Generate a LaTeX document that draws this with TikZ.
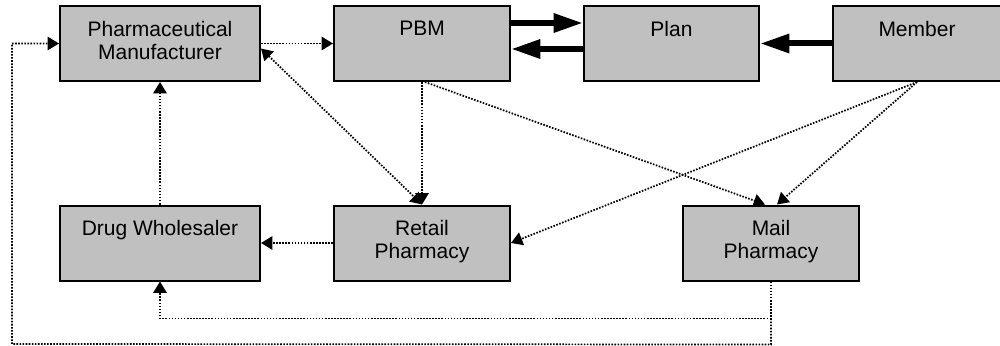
\documentclass[tikz,border=0pt]{standalone}
\usepackage{fontspec}
\setmainfont{Liberation Sans}
\usetikzlibrary{arrows.meta,calc}
\definecolor{boxgray}{HTML}{C0C0C0}
\begin{document}
\begin{tikzpicture}[x=0.75pt,y=-0.75pt,
  entity/.style={draw=black,line width=1.5pt,fill=boxgray,minimum height=56.25pt,inner sep=0pt},
  label text/.style={anchor=north,inner sep=0pt,align=center,font=\fontsize{15.75pt}{17.25pt}\selectfont},
  dotline/.style={line width=1.3pt,dash pattern=on 1.2pt off 1.1pt,-{Triangle[length=8.5pt,width=10pt]}},
  dotboth/.style={dotline,{Triangle[length=8.5pt,width=10pt]}-{Triangle[length=8.5pt,width=10pt]}},
  thick arrow/.style={line width=4.5pt,-{Triangle[length=22pt,width=13.5pt]}}
]
\useasboundingbox (0,0) rectangle (1000,346);
% boxes
\node[entity,minimum width=150pt] (pm) at (160,43.5) {};
\node[entity,minimum width=132pt] (pbm) at (422,43.5) {};
\node[entity,minimum width=131.25pt] (plan) at (671.5,43.5) {};
\node[entity,minimum width=126pt] (member) at (917,43.5) {};
\node[entity,minimum width=150pt] (dw) at (160,243) {};
\node[entity,minimum width=132pt] (retail) at (422,243) {};
\node[entity,minimum width=132pt] (mail) at (771,243) {};
% labels
\node[label text] (pm-t) at ($(pm.north)+(0,16)$) {Pharmaceutical\\Manufacturer};
\node[label text] (pbm-t) at ($(pbm.north)+(0,16)$) {PBM};
\node[label text] (plan-t) at ($(plan.north)+(0,16)$) {Plan};
\node[label text] (member-t) at ($(member.north)+(0,16)$) {Member};
\node[label text] (dw-t) at ($(dw.north)+(0,16)$) {Drug Wholesaler};
\node[label text] (retail-t) at ($(retail.north)+(0,16)$) {Retail\\Pharmacy};
\node[label text] (mail-t) at ($(mail.north)+(0,16)$) {Mail\\Pharmacy};
% thick arrows
\draw[thick arrow] ($(pbm.east)+(0,-20.5)$) -- ($(plan.west)+(0,-20.5)$);
\draw[thick arrow] ($(plan.west)+(0,5.5)$) -- ($(pbm.east)+(0,5.5)$);
\draw[thick arrow] (member) -- (plan);
% dotted connectors
\draw[dotline] (pm) -- (pbm);
\draw[dotboth] ($(pm.east)+(0,5)$) -- (retail.north);
\draw[dotline] (pbm.south) -- (retail.north);
\draw[dotline] ($(pbm.south)+(3,0)$) -- ($(mail.north)+(-6,0)$);
\draw[dotline] (member.south) -- ($(mail.north)+(6,0)$);
\draw[dotline] (member.south) -- (retail.east);
\draw[dotline] (retail) -- (dw);
\draw[dotline] (dw) -- (pm);
\coordinate (c1) at ($(mail.south)+(0,37)$);
\coordinate (c2) at ($(mail.south)+(0,63)$);
\coordinate (c3) at (12,344);
\draw[dotline] (mail.south) -- (c1) -| (dw.south);
\draw[dotline] (c1) -- (c2) -- (c3) |- (pm.west);
\end{tikzpicture}
\end{document}
